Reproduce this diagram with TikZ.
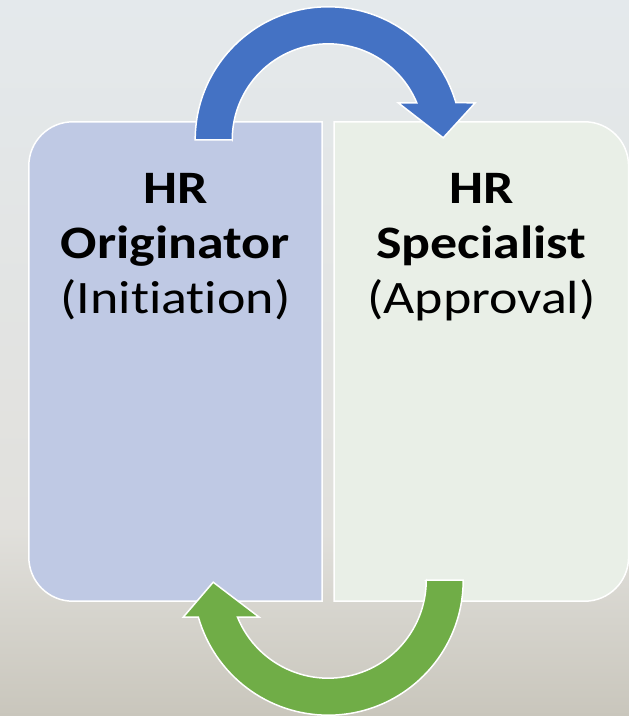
\documentclass[tikz,border=0pt]{standalone}
\usepackage{fontspec}
\setmainfont{Carlito}[FakeStretch=1.16, Ligatures=NoCommon]
\usepackage{tikz}
\usetikzlibrary{calc, positioning}
\definecolor{arrowblue}{RGB}{68,114,196}
\definecolor{arrowgreen}{RGB}{112,173,71}
\definecolor{origfill}{RGB}{191,201,228}
\definecolor{specfill}{RGB}{233,239,231}
\definecolor{skytop}{RGB}{228,233,236}
\definecolor{skymid}{RGB}{225,224,220}
\definecolor{landmid}{RGB}{211,208,199}
\definecolor{landbot}{RGB}{201,198,188}

\begin{document}
\begin{tikzpicture}[x=1pt,y=1pt,
        boxarea/.style={minimum width=293pt, minimum height=479pt, inner sep=0pt},
        boxedge/.style={draw=white, line width=1.5pt},
        bigarrow/.style={draw=white, line width=1.5pt, line join=miter},
        boxtext/.style={align=center, inner sep=0pt, font=\fontsize{46.5}{55}\selectfont}]
        % backdrop
        \shade[top color=skytop, bottom color=skymid] (0,190) rectangle (629,716);
        \shade[top color=skymid, middle color=landmid, bottom color=landbot] (0,0) rectangle (629,190.5);
        \useasboundingbox (0,0) rectangle (629,716);

        \node[boxarea] (orig) at (175.5,354.5) {};
        \node[boxarea, minimum width=294pt, right=12pt of orig] (spec) {};

        \draw[boxedge, fill=origfill] (orig.north east) -- ($(orig.north west)+(44,0)$)
            arc[start angle=90, end angle=180, radius=44] -- ($(orig.south west)+(0,44)$)
            arc[start angle=180, end angle=270, radius=44] -- (orig.south east) -- cycle;
        \draw[boxedge, fill=specfill] (spec.north west) -- ($(spec.north east)+(-44,0)$)
            arc[start angle=90, end angle=0, radius=44] -- ($(spec.south east)+(0,44)$)
            arc[start angle=0, end angle=-90, radius=44] -- (spec.south west) -- cycle;

        \node[boxtext, below=51pt of orig.north] (origtxt) {\textbf{HR}\\\textbf{Originator}\\(Initiation)};
        \node[boxtext, below=51pt of spec.north] (spectxt) {\textbf{HR}\\\textbf{Specialist}\\(Approval)};

        % circular arrows
        \coordinate (topc) at ($(orig.north east)!0.5!(spec.north west)+(0,-18)$);
        \coordinate (botc) at ($(orig.south east)!0.5!(spec.south west)+(0,21)$);
        \draw[bigarrow, fill=arrowblue] ($(topc)+(-96,0)$) -- ($(topc)+(-133,0)$)
            arc[start angle=180, end angle=16.2, radius=133] -- ($(topc)+(147,37)$)
            -- ($(topc)+(115,2)$) -- ($(topc)+(70,37)$) -- ($(topc)+(88.6,37)$)
            arc[start angle=22.7, end angle=180, radius=96] -- cycle;
        \draw[bigarrow, fill=arrowgreen] ($(botc)+(98,0)$) -- ($(botc)+(135,0)$)
            arc[start angle=0, end angle=-164.1, radius=135] -- ($(botc)+(-145,-37)$)
            -- ($(botc)+(-115,-2)$) -- ($(botc)+(-69,-37)$) -- ($(botc)+(-90.7,-37)$)
            arc[start angle=-157.8, end angle=0, radius=98] -- cycle;
    \end{tikzpicture}
\end{document}
